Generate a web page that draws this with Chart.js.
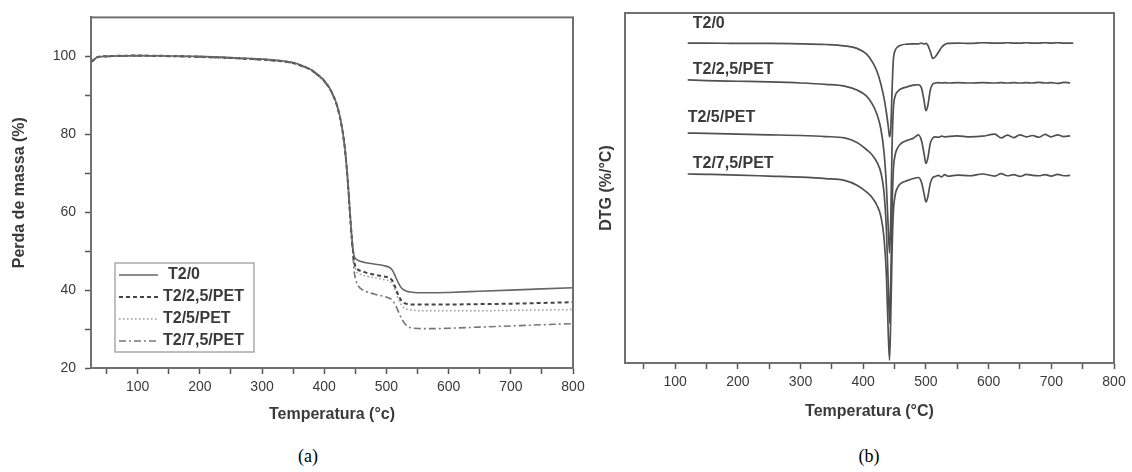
<!DOCTYPE html>
<html lang="pt">
<head>
<meta charset="UTF-8">
<title>TGA / DTG</title>
<script src="https://cdn.jsdelivr.net/npm/chart.js"></script>
<style>
  body { margin: 0; background: #fff; width: 1132px; height: 472px; position: relative; overflow: hidden; }
  .panel { position: absolute; top: 0; }
  .cap { position: absolute; top: 446px; font: 18px "Liberation Serif", "Times New Roman", serif; color: #000; transform: translateX(-50%); }
</style>
</head>
<body>
<div class="panel" style="left:0"><canvas id="tga" width="590" height="440"></canvas></div>
<div class="panel" style="left:590px"><canvas id="dtg" width="542" height="440"></canvas></div>
<div class="cap" style="left:308px">(a)</div>
<div class="cap" style="left:869px">(b)</div>
<script>
// (a) TGA - perda de massa (%)
const tgaTemp = [25, 30, 35, 45, 60, 100, 150, 200, 250, 300, 330, 350, 365, 380, 390, 400, 410, 420, 425, 430, 434, 438, 441, 444, 446,
  448, 451, 455, 465, 480, 495, 505, 510, 515, 520, 525, 530, 535, 540, 545, 555, 575, 600, 650, 700, 750, 800];
const tgaT20 = [98.6, 99.3, 99.8, 100.0, 100.1, 100.2, 100.1, 100.0, 99.7, 99.3, 98.9, 98.4, 97.6, 96.5, 95.3, 93.8, 91.5, 87.8, 84.8, 80.5, 75.5, 68.0, 61.0, 54.5, 51.0,
  48.8, 48.0, 47.6, 47.1, 46.7, 46.3, 45.8, 45.0, 43.3, 41.6, 40.4, 39.9, 39.6, 39.5, 39.4, 39.3, 39.3, 39.4, 39.7, 40.0, 40.3, 40.6];
const tgaT225 = [98.5, 99.2, 99.8, 100.0, 100.1, 100.2, 100.1, 99.9, 99.6, 99.2, 98.8, 98.3, 97.5, 96.4, 95.2, 93.7, 91.4, 87.7, 84.6, 80.3, 75.2, 67.7, 60.6, 54.0, 50.5,
  47.5, 45.8, 45.2, 44.6, 44.0, 43.5, 43.1, 42.3, 40.4, 38.4, 37.1, 36.6, 36.4, 36.3, 36.3, 36.3, 36.3, 36.3, 36.4, 36.5, 36.7, 36.9];
const tgaT25 = [98.5, 99.2, 99.7, 99.9, 100.0, 100.1, 100.0, 99.9, 99.6, 99.2, 98.8, 98.3, 97.5, 96.4, 95.2, 93.6, 91.3, 87.6, 84.5, 80.2, 75.0, 67.5, 60.4, 53.8, 50.3,
  47.0, 45.0, 44.3, 43.7, 43.2, 42.7, 42.3, 41.5, 39.6, 37.4, 36.0, 35.3, 35.0, 34.9, 34.8, 34.7, 34.7, 34.7, 34.7, 34.8, 34.9, 35.0];
const tgaT275 = [98.4, 99.1, 99.7, 99.9, 100.0, 100.1, 100.0, 99.8, 99.5, 99.1, 98.7, 98.2, 97.4, 96.3, 95.0, 93.5, 91.2, 87.4, 84.3, 80.0, 74.8, 67.2, 60.0, 53.2, 49.5,
  45.0, 42.5, 41.0, 39.8, 39.0, 38.4, 37.9, 37.3, 36.0, 34.2, 32.5, 31.3, 30.6, 30.3, 30.2, 30.1, 30.1, 30.2, 30.5, 30.8, 31.1, 31.4];
const tgaXTicks = [50, 100, 150, 200, 250, 300, 350, 400, 450, 500, 550, 600, 650, 700, 750, 800];
const tgaYTicks = [20, 30, 40, 50, 60, 70, 80, 90, 100];

// (b) DTG - curvas deslocadas (unidades arbitrárias)
const dtgTemp = [120, 150, 200, 250, 300, 340, 370, 390, 405, 415, 422, 428, 433, 437, 440, 442, 444, 446, 448, 451,
  455, 460, 470, 480, 488, 493, 497, 500, 503, 507, 511, 515, 520, 525, 530, 535, 550, 570, 590, 610,
  620, 630, 640, 650, 660, 670, 680, 690, 700, 710, 720, 730, 735];
const dtgT20 = [91.4, 91.4, 91.3, 91.3, 91.2, 91.0, 90.6, 89.9, 88.3, 85.9, 83.3, 79.8, 75.8, 71.5, 67.5, 64.6, 67.0, 78.0, 86.5, 89.3,
  90.3, 90.8, 91.1, 91.2, 91.2, 91.4, 91.1, 91.3, 90.8, 89.0, 87.0, 87.5, 88.8, 90.2, 91.0, 91.3, 91.4, 91.3, 91.5, 91.4,
  91.4, 91.5, 91.4, 91.4, 91.5, 91.4, 91.4, 91.5, 91.4, 91.5, 91.4, 91.4, 91.4];
const dtgT225 = [80.9, 80.7, 80.5, 80.3, 80.0, 79.6, 79.1, 78.0, 76.3, 73.8, 71.0, 67.0, 60.5, 50.5, 38.0, 31.4, 42.0, 62.0, 72.5, 76.3,
  77.6, 78.3, 78.9, 79.4, 79.5, 78.5, 75.0, 72.1, 73.5, 78.0, 79.7, 80.0, 80.1, 80.0, 80.1, 80.0, 80.1, 80.0, 80.1, 80.0,
  80.1, 80.0, 80.1, 80.0, 80.1, 80.0, 80.2, 80.0, 80.1, 79.9, 80.2, 80.0, null];
const dtgT25 = [65.7, 65.6, 65.4, 65.2, 65.0, 64.7, 64.3, 63.0, 61.0, 59.3, 57.3, 54.5, 49.0, 38.0, 22.0, 11.4, 24.0, 44.0, 55.0, 59.5,
  61.5, 62.7, 63.6, 64.2, 65.2, 63.5, 59.8, 57.0, 58.5, 62.8, 64.3, 64.6, 64.5, 64.8, 64.6, 64.7, 64.9, 64.6, 64.8, 65.4,
  64.3, 65.1, 64.4, 65.2, 64.6, 65.0, 64.5, 65.3, 64.6, 65.2, 64.7, 64.9, null];
const dtgT275 = [54.0, 53.9, 53.7, 53.4, 53.1, 52.7, 52.2, 50.8, 48.9, 47.1, 45.0, 42.0, 36.0, 25.0, 8.0, 0.8, 14.0, 32.0, 43.0, 48.0,
  50.2, 51.3, 52.1, 52.7, 53.0, 51.6, 48.4, 46.0, 47.4, 51.4, 53.0, 53.3, 53.6, 53.2, 53.8, 53.4, 53.7, 53.5, 54.0, 53.4,
  54.1, 53.5, 53.8, 53.3, 53.9, 53.6, 53.5, 53.8, 53.4, 53.9, 53.5, 53.6, null];
const dtgXTicks = [50, 100, 150, 200, 250, 300, 350, 400, 450, 500, 550, 600, 650, 700, 750, 800];

const seriesNames = ['T2/0', 'T2/2,5/PET', 'T2/5/PET', 'T2/7,5/PET'];

Chart.defaults.font.family = '"Liberation Sans", Arial, sans-serif';
Chart.defaults.color = '#333';

const pts = (xs, ys) => xs.map((x, i) => ({ x: x, y: ys[i] }));

const frame = {
  id: 'frame',
  afterDraw(chart) {
    const { ctx, chartArea: a } = chart;
    ctx.save();
    ctx.strokeStyle = '#707070';
    ctx.lineWidth = 2;
    ctx.strokeRect(a.left, a.top, a.right - a.left, a.bottom - a.top);
    ctx.restore();
  }
};

// legenda dentro do gráfico (a)
const boxLegend = {
  id: 'boxLegend',
  afterDraw(chart) {
    const { ctx, chartArea: a } = chart;
    const left = a.left + 24, top = a.bottom - 105;
    ctx.save();
    ctx.fillStyle = '#fff';
    ctx.fillRect(left, top, 139, 89);
    ctx.strokeStyle = '#aaa';
    ctx.lineWidth = 1.5;
    ctx.strokeRect(left, top, 139, 89);
    ctx.font = 'bold 16px "Liberation Sans", Arial, sans-serif';
    ctx.textBaseline = 'middle';
    chart.data.datasets.forEach((ds, i) => {
      const y = top + 12 + i * 22;
      ctx.strokeStyle = ds.borderColor;
      ctx.lineWidth = ds.borderWidth;
      ctx.setLineDash(ds.borderDash || []);
      ctx.beginPath();
      ctx.moveTo(left + 4, y);
      ctx.lineTo(left + 43, y);
      ctx.stroke();
      ctx.setLineDash([]);
      ctx.fillStyle = '#3a3a3a';
      ctx.fillText(ds.label, left + (i === 0 ? 53 : 48), y);
    });
    ctx.restore();
  }
};

// rótulos das curvas em (b)
const curveLabels = {
  id: 'curveLabels',
  afterDatasetsDraw(chart) {
    const { ctx, scales: { x, y } } = chart;
    const at = [[128, 97.1], [128, 83.7], [120, 70.0], [128, 57.1]];
    ctx.save();
    ctx.font = 'bold 16px "Liberation Sans", Arial, sans-serif';
    ctx.fillStyle = '#3a3a3a';
    ctx.textBaseline = 'middle';
    chart.data.datasets.forEach((ds, i) => {
      ctx.fillText(ds.label, x.getPixelForValue(at[i][0]), y.getPixelForValue(at[i][1]));
    });
    ctx.restore();
  }
};

function axisX(min, max, ticks, title, height, titlePad) {
  return {
    type: 'linear', min: min, max: max,
    afterBuildTicks: s => { s.ticks = ticks.map(v => ({ value: v })); },
    afterFit: s => { s.height = height; },
    ticks: { autoSkip: false, maxRotation: 0, padding: 5, color: '#3a3a3a', font: { size: 14 },
      callback: v => (v % 100 === 0 ? v : '') },
    grid: { drawOnChartArea: false, tickLength: 6, tickWidth: 1.5, color: '#555' },
    border: { color: '#555', width: 2 },
    title: { display: true, text: title, color: '#3a3a3a', font: { size: 16, weight: 'bold' },
      padding: { top: 0, bottom: titlePad } }
  };
}

new Chart(document.getElementById('tga'), {
  type: 'line',
  data: {
    datasets: [
      { label: seriesNames[0], data: pts(tgaTemp, tgaT20), borderColor: '#666', borderWidth: 1.6 },
      { label: seriesNames[1], data: pts(tgaTemp, tgaT225), borderColor: '#444', borderWidth: 2, borderDash: [4, 3] },
      { label: seriesNames[2], data: pts(tgaTemp, tgaT25), borderColor: '#999', borderWidth: 1.5, borderDash: [1.5, 2.5] },
      { label: seriesNames[3], data: pts(tgaTemp, tgaT275), borderColor: '#777', borderWidth: 1.6, borderDash: [7, 3, 2, 3] }
    ]
  },
  options: {
    responsive: false,
    animation: false,
    elements: { point: { radius: 0 }, line: { cubicInterpolationMode: 'monotone' } },
    layout: { padding: { top: 10, right: 17, left: 0, bottom: 0 } },
    plugins: { legend: { display: false }, tooltip: { enabled: false } },
    scales: {
      x: axisX(25, 800, tgaXTicks, 'Temperatura (°c)', 72, 15.4),
      y: {
        min: 20, max: 110,
        afterBuildTicks: s => { s.ticks = tgaYTicks.map(v => ({ value: v })); },
        afterFit: s => { s.width = 91; },
        ticks: { autoSkip: false, padding: 9, color: '#3a3a3a', font: { size: 14 },
          callback: v => (v % 20 === 0 ? v : '') },
        grid: { drawOnChartArea: false, tickLength: 6, tickWidth: 1.5, color: '#555' },
        border: { color: '#555', width: 2 },
        title: { display: true, text: 'Perda de massa (%)', color: '#3a3a3a', font: { size: 16, weight: 'bold' },
          padding: { top: 10.4, bottom: 0 } }
      }
    }
  },
  plugins: [frame, boxLegend]
});

new Chart(document.getElementById('dtg'), {
  type: 'line',
  data: {
    datasets: seriesNames.map((name, i) => ({
      label: name,
      data: pts(dtgTemp, [dtgT20, dtgT225, dtgT25, dtgT275][i]),
      borderColor: '#505050',
      borderWidth: 1.7
    }))
  },
  options: {
    responsive: false,
    animation: false,
    elements: { point: { radius: 0 }, line: { cubicInterpolationMode: 'monotone' } },
    layout: { padding: { top: 13, right: 18, left: 0, bottom: 0 } },
    plugins: { legend: { display: false }, tooltip: { enabled: false } },
    scales: {
      x: axisX(20, 800, dtgXTicks, 'Temperatura (°C)', 77, 18.4),
      y: {
        min: 0, max: 100,
        afterFit: s => { s.width = 35; },
        ticks: { display: false },
        grid: { display: false },
        border: { color: '#555', width: 2 },
        title: { display: true, text: 'DTG (%/°C)', color: '#3a3a3a', font: { size: 16, weight: 'bold' },
          padding: { top: 7.4, bottom: 0 } }
      }
    }
  },
  plugins: [frame, curveLabels]
});
</script>
</body>
</html>
